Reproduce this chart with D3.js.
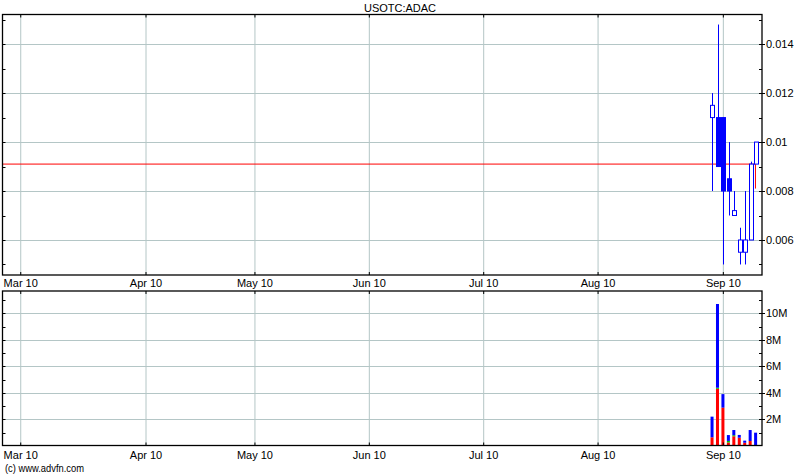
<!DOCTYPE html>
<html><head><meta charset="utf-8">
<script src="https://cdn.jsdelivr.net/npm/d3@7"></script>
<style>body{margin:0;background:#fff}svg{display:block}text{font-family:"Liberation Sans",Arial,sans-serif;font-size:11px;fill:#000}</style>
</head><body><svg id="c" width="800" height="475"></svg>
<script>
// ---- data ----
const title = "USOTC:ADAC";
const monthLabels = ["Mar 10","Apr 10","May 10","Jun 10","Jul 10","Aug 10","Sep 10"];
const monthDays   = [0, 23, 43, 64, 85, 106, 129];          // trading-day index of each month tick
const candleDays  = [127, 128, 129, 130, 131, 132, 133, 134, 135];
const opens  = [0.0110, 0.0110, 0.0110, 0.0085, 0.0070, 0.0055, 0.0055, 0.0060, 0.0091];
const highs  = [0.0120, 0.0148, 0.0110, 0.0100, 0.0080, 0.0065, 0.0080, 0.0092, 0.0100];
const lows   = [0.0080, 0.0090, 0.0050, 0.0070, 0.0070, 0.0050, 0.0050, 0.0060, 0.0091];
const closes = [0.0115, 0.0090, 0.0080, 0.0080, 0.0072, 0.0060, 0.0060, 0.0091, 0.0100];
const refPrice = 0.0091;
const refDropTo = 0.0081;
const priceTicks = [0.006, 0.008, 0.01, 0.012, 0.014];
const priceTickLabels = ["0.006","0.008","0.01","0.012","0.014"];
const volRed   = [0.64, 4.30, 2.88, 0.25, 0.72, 0.61, 0.23, 0.36, 0.00];   // millions
const volGreen = [0.00, 0.08, 0.00, 0.12, 0.08, 0.00, 0.00, 0.00, 0.00];
const volBlue  = [1.56, 6.32, 1.02, 0.44, 0.39, 0.21, 0.16, 0.83, 0.99];
const volTicks = [2, 4, 6, 8, 10];
const volTickLabels = ["2M","4M","6M","8M","10M"];
const copyright = "(c) www.advfn.com";

// ---- layout ----
const svg = d3.select("#c");
const L = 2.5, R = 762;
const P = {top: 14.5, bottom: 275};
const V = {top: 291, bottom: 445.5};
const x = d3.scaleLinear().domain([-3.35, 136.1]).range([L, R]);
const yP = d3.scaleLinear().domain([0.00457, 0.01521]).range([P.bottom, P.top]);
const yV = d3.scaleLinear().domain([0, 11.68]).range([V.bottom + 0.3, V.top]);
const gridColor = "#b4c6c6";

function panel(top, bottom, y, ticks) {
  const g = svg.append("g");
  g.selectAll(".vg").data(monthDays).enter().append("line")
    .attr("x1", d => x(d)).attr("x2", d => x(d)).attr("y1", top).attr("y2", bottom)
    .attr("stroke", gridColor).attr("stroke-width", 1);
  g.selectAll(".hg").data(ticks).enter().append("line")
    .attr("x1", L).attr("x2", R).attr("y1", d => Math.round(y(d)) + 0.5).attr("y2", d => Math.round(y(d)) + 0.5)
    .attr("stroke", gridColor).attr("stroke-width", 1);
  return g;
}
function frame(top, bottom, y, ticks, labels, minorTicks) {
  const g = svg.append("g");
  g.append("rect").attr("x", L).attr("y", top).attr("width", R - L).attr("height", bottom - top)
    .attr("fill", "none").attr("stroke", "#000").attr("stroke-width", 1.3);
  g.selectAll(".tt").data(monthDays).enter().append("line")
    .attr("x1", d => x(d)).attr("x2", d => x(d)).attr("y1", top).attr("y2", top + 3)
    .attr("stroke", "#000");
  g.selectAll(".tb").data(monthDays).enter().append("line")
    .attr("x1", d => x(d)).attr("x2", d => x(d)).attr("y1", bottom - 3).attr("y2", bottom)
    .attr("stroke", "#000");
  g.selectAll(".tl").data(minorTicks).enter().append("line")
    .attr("x1", L).attr("x2", L + 3).attr("y1", d => Math.round(y(d)) + 0.5).attr("y2", d => Math.round(y(d)) + 0.5)
    .attr("stroke", "#000");
  g.selectAll(".tr").data(minorTicks).enter().append("line")
    .attr("x1", R - 3).attr("x2", R).attr("y1", d => Math.round(y(d)) + 0.5).attr("y2", d => Math.round(y(d)) + 0.5)
    .attr("stroke", "#000");
  g.selectAll(".trm").data(ticks).enter().append("line")
    .attr("x1", R).attr("x2", R + 3).attr("y1", d => Math.round(y(d)) + 0.5).attr("y2", d => Math.round(y(d)) + 0.5)
    .attr("stroke", "#000");
  g.selectAll(".lab").data(ticks).enter().append("text")
    .attr("x", R + 4).attr("y", d => y(d) + 4).text((d, i) => labels[i]);
}

panel(P.top, P.bottom, yP, priceTicks);
panel(V.top, V.bottom, yV, volTicks);

// reference red line
const lastDay = candleDays[candleDays.length - 1];
const refLine = d3.line().x(d => x(d[0])).y(d => yP(d[1]));
svg.append("path")
  .attr("d", refLine([[-3.35, refPrice], [lastDay - 0.1, refPrice], [lastDay - 0.1, refDropTo]]))
  .attr("fill", "none").attr("stroke", "#ff0000").attr("stroke-width", 1);

// candles
const blue = "#0000ff";
const cg = svg.append("g");
candleDays.forEach((d, i) => {
  const cx = Math.round(x(d)) + 0.5;
  cg.append("line").attr("x1", cx).attr("x2", cx).attr("y1", yP(highs[i])).attr("y2", yP(lows[i]))
    .attr("stroke", blue).attr("stroke-width", 1);
  const up = closes[i] >= opens[i];
  const yt = yP(Math.max(opens[i], closes[i])), yb = yP(Math.min(opens[i], closes[i]));
  cg.append("rect").attr("x", cx - 2).attr("width", 4).attr("y", yt).attr("height", Math.max(1, yb - yt))
    .attr("fill", up ? "#fff" : blue).attr("stroke", blue).attr("stroke-width", 1);
});

// volume stacked bars
const vg = svg.append("g");
candleDays.forEach((d, i) => {
  const cx = x(d) - 0.4;
  const segs = [[0, volRed[i], "#ff0000"], [volRed[i], volRed[i] + volGreen[i], "#00c000"],
                [volRed[i] + volGreen[i], volRed[i] + volGreen[i] + volBlue[i], "#0000ff"]];
  segs.forEach(s => {
    if (s[1] - s[0] <= 0) return;
    vg.append("rect").attr("x", cx - 1.5).attr("width", 3)
      .attr("y", yV(s[1])).attr("height", yV(s[0]) - yV(s[1])).attr("fill", s[2]);
  });
});

frame(P.top, P.bottom, yP, priceTicks, priceTickLabels, d3.range(0.005, 0.0152, 0.001));
frame(V.top, V.bottom, yV, volTicks, volTickLabels, d3.range(1, 11.6, 1));

// month labels
[287, 459].forEach(yy => {
  svg.selectAll(null).data(monthDays).enter().append("text")
    .attr("x", d => x(d)).attr("y", yy).attr("text-anchor", "middle").text((d, i) => monthLabels[i]);
});
svg.append("text").attr("x", 400).attr("y", 12).attr("text-anchor", "middle").text(title);
svg.append("text").attr("x", 5).attr("y", 471.5).style("font-size", "10.5px")
  .attr("textLength", 79).attr("lengthAdjust", "spacingAndGlyphs").text(copyright);
</script></body></html>
